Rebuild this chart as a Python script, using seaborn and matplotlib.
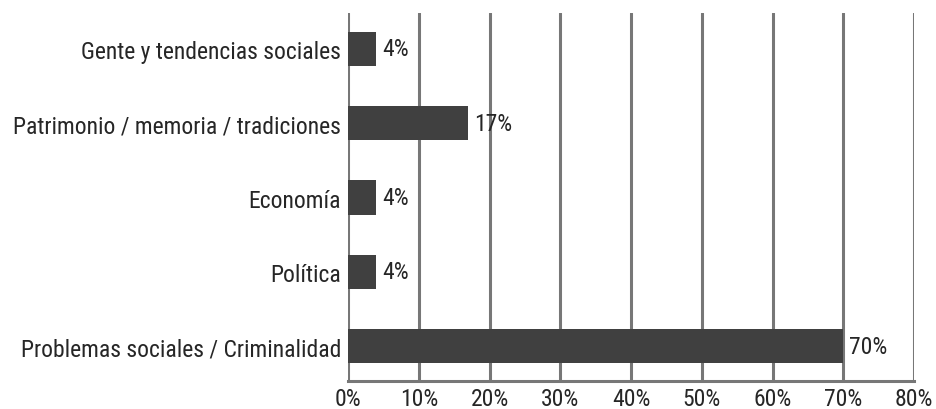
import matplotlib
matplotlib.use("Agg")
import matplotlib.pyplot as plt
import seaborn as sns
import pandas as pd
from matplotlib.ticker import FuncFormatter
from matplotlib import font_manager
from matplotlib.font_manager import FontProperties

categories = ["Gente y tendencias sociales", "Patrimonio / memoria / tradiciones",
              "Economía", "Política", "Problemas sociales / Criminalidad"]
values = [4, 17, 4, 4, 70]
xticks = [0, 10, 20, 30, 40, 50, 60, 70, 80]

sns.set_theme(style="white")


def find_narrow():
    prefs = ["liberationsansnarrow-regular", "robotocondensed-regular",
             "opensanscondensed", "dejavusanscondensed.ttf", "notosans-condensed"]
    files = [f.fname for f in font_manager.fontManager.ttflist]
    for p in prefs:
        for fn in files:
            base = fn.replace("\\", "/").split("/")[-1].lower().replace(" ", "")
            if p in base and "bold" not in base and "italic" not in base and "oblique" not in base:
                return fn
    for f in font_manager.fontManager.ttflist:
        if f.stretch in ("condensed", "semi-condensed", 300) and f.style == "normal":
            return f.fname
    return None


path = find_narrow()
if path:
    fp = FontProperties(fname=path)
    size = 17
else:
    fp = FontProperties(family="Liberation Sans")
    size = 15

df = pd.DataFrame({"cat": categories, "val": values})

fig = plt.figure(figsize=(9.36, 4.10), dpi=100)
ax = fig.add_axes([0.3718, 0.068, 0.6047, 0.898])
sns.barplot(data=df, x="val", y="cat", color="#404040", saturation=1,
            width=0.46, ax=ax, zorder=3, linewidth=0, edgecolor="none")

ax.set_xlim(0, 80)
ax.set_ylim(4.47, -0.485)
ax.set_xticks(xticks)
ax.xaxis.set_major_formatter(FuncFormatter(lambda v, p: f"{int(v)}%"))
ax.grid(axis="x", color="#777777", linewidth=2.2, zorder=1)
ax.grid(axis="y", visible=False)
ax.set_axisbelow(True)
for s in ["top", "right", "left"]:
    ax.spines[s].set_visible(False)
ax.spines["bottom"].set_color("#777777")
ax.spines["bottom"].set_linewidth(2.2)
ax.tick_params(axis="both", length=0, colors="#262626")
ax.tick_params(axis="y", pad=5)
ax.tick_params(axis="x", pad=4)
ax.set_xlabel("")
ax.set_ylabel("")
for lab in ax.get_xticklabels() + ax.get_yticklabels():
    lab.set_fontproperties(fp)
    lab.set_fontsize(size)

for i, v in enumerate(values):
    ax.text(v + 0.8, i, f"{v}%", va="center", ha="left", fontproperties=fp,
            fontsize=size, color="#262626", zorder=5)

fig.savefig("out.png", dpi=100)
